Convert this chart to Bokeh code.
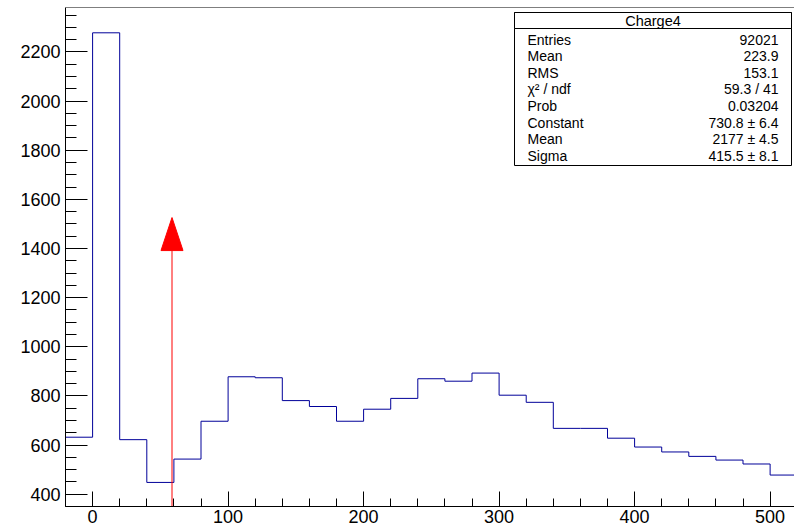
from bokeh.plotting import figure
from bokeh.models import (Range1d, SingleIntervalTicker, Label, BoxAnnotation, Span)
from bokeh.embed import file_html
from bokeh.resources import INLINE

# Histogram "Charge4": bin edges every 20 from -20 to 520, counts per bin
bin_edges = list(range(-20, 521, 20))
counts = [632, 2278, 622, 448, 543, 697, 878, 874, 781, 757, 697, 746, 790,
          870, 860, 893, 803, 774, 668, 668, 628, 592, 572, 554, 539, 523, 478]

# Fit marker position and height
arrow_x = 58.6
arrow_tip = 1526

# Statistics box contents
stats_title = "Charge4"
stats_names = ["Entries", "Mean", "RMS", "\u03c7\u00b2 / ndf", "Prob",
               "Constant", "Mean", "Sigma"]
stats_values = ["92021", "223.9", "153.1", "59.3 / 41", "0.03204",
                "730.8 \u00b1 6.4", "2177 \u00b1 4.5", "415.5 \u00b1 8.1"]

X0, X1 = -20, 518
Y0, Y1 = 350, 2381
FRAME_L, FRAME_T, FRAME_W, FRAME_H = 65, 7, 729, 499
FONT = "Liberation Sans"


def xd(px):
    return X0 + (px - FRAME_L) * (X1 - X0) / FRAME_W


def yd(py):
    return Y1 - (py - FRAME_T) * (Y1 - Y0) / FRAME_H


p = figure(width=794, height=528, x_range=Range1d(X0, X1), y_range=Range1d(Y0, Y1),
           output_backend="svg", toolbar_location=None,
           min_border_left=FRAME_L, min_border_right=0,
           min_border_top=FRAME_T, min_border_bottom=528 - FRAME_T - FRAME_H)
p.grid.visible = False
p.outline_line_color = None
p.background_fill_color = "white"
p.border_fill_color = "white"

# axes with inward ticks
p.xaxis.ticker = SingleIntervalTicker(interval=100, num_minor_ticks=5)
p.yaxis.ticker = SingleIntervalTicker(interval=200, num_minor_ticks=4)
for ax, maj, mnr, stand in ((p.xaxis, 15, 8, 3), (p.yaxis, 22, 11, 5)):
    ax.major_tick_in = maj
    ax.major_tick_out = 0
    ax.minor_tick_in = mnr
    ax.minor_tick_out = 0
    ax.axis_line_color = "black"
    ax.major_tick_line_color = "black"
    ax.minor_tick_line_color = "black"
    ax.major_label_text_font = FONT
    ax.major_label_text_font_size = "18px"
    ax.major_label_text_color = "black"
    ax.major_label_standoff = stand

p.add_layout(Span(location=Y1, dimension="width", line_color="black", line_width=1))

# histogram outline
step_x = bin_edges
step_y = counts + [counts[-1]]
p.step(step_x, step_y, mode="after", line_color="#000099", line_width=1)

# red arrow marker
head_len = 33 * (Y1 - Y0) / FRAME_H
head_half = 11 * (X1 - X0) / FRAME_W
p.segment(x0=[arrow_x], y0=[Y0], x1=[arrow_x], y1=[arrow_tip - head_len],
          line_color="red", line_width=1)
p.patch([arrow_x - head_half, arrow_x, arrow_x + head_half],
        [arrow_tip - head_len, arrow_tip, arrow_tip - head_len],
        fill_color="red", line_color="red", line_width=1)

# statistics box
box_l, box_r, box_t, box_b, title_b = 514, 791, 12, 165, 28
p.add_layout(BoxAnnotation(left=xd(box_l), right=xd(box_r), top=yd(box_t), bottom=yd(box_b),
                           fill_color="white", fill_alpha=1.0,
                           line_color="black", line_width=1, line_alpha=1.0))
p.add_layout(BoxAnnotation(left=xd(box_l), right=xd(box_r), top=yd(box_t), bottom=yd(title_b),
                           fill_color="white", fill_alpha=1.0,
                           line_color="black", line_width=1, line_alpha=1.0))
p.add_layout(Label(x=xd((box_l + box_r) / 2), y=yd(20.5), text=stats_title,
                   text_align="center", text_baseline="middle",
                   text_font=FONT, text_font_size="14.5px", text_color="black"))
row_y0, row_step = 39, 16.6
for i, (name, val) in enumerate(zip(stats_names, stats_values)):
    yy = yd(row_y0 + i * row_step)
    p.add_layout(Label(x=xd(527), y=yy, text=name, text_align="left",
                       text_baseline="middle", text_font=FONT,
                       text_font_size="14px", text_color="black"))
    p.add_layout(Label(x=xd(778), y=yy, text=val, text_align="right",
                       text_baseline="middle", text_font=FONT,
                       text_font_size="14px", text_color="black"))

open("out.html", "w").write(file_html(p, INLINE))
